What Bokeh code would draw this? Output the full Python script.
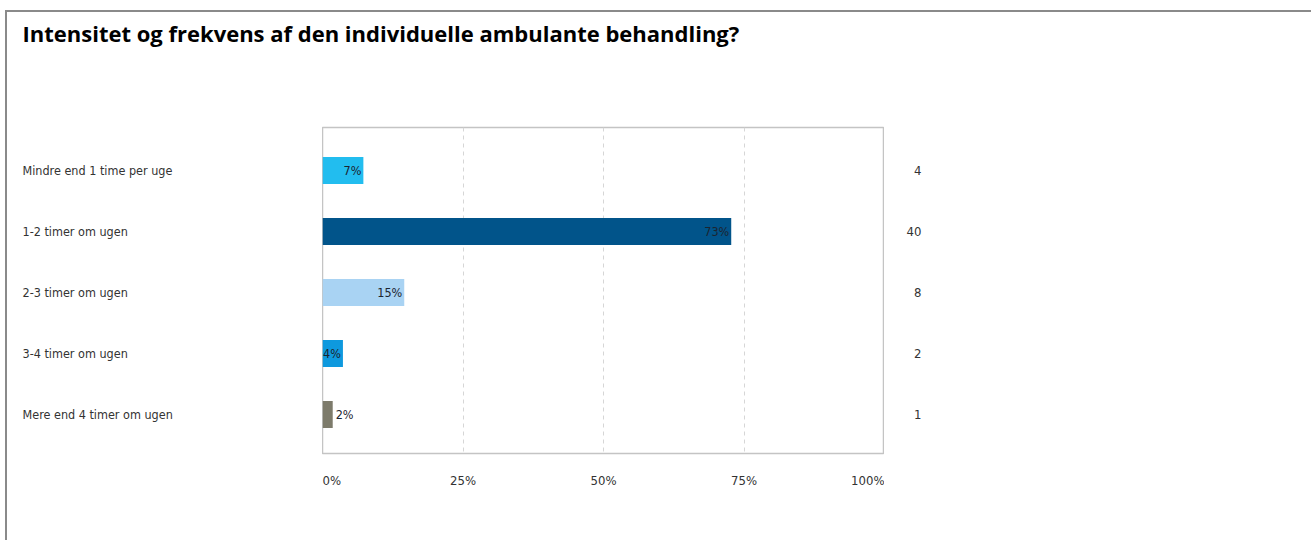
from bokeh.plotting import figure
from bokeh.models import Range1d, FixedTicker, ColumnDataSource
from bokeh.layouts import column, row
from bokeh.embed import file_html
from bokeh.resources import INLINE
from bokeh.core.properties import value

title_text = "Intensitet og frekvens af den individuelle ambulante behandling?"
categories = ["Mindre end 1 time per uge", "1-2 timer om ugen", "2-3 timer om ugen",
              "3-4 timer om ugen", "Mere end 4 timer om ugen"]
counts = [4, 40, 8, 2, 1]
colors = ["#22BDEF", "#01548A", "#A9D3F3", "#0E99DE", "#7D7B6B"]
tick_values = [0, 25, 50, 75, 100]
tick_labels = ["0%", "25%", "50%", "75%", "100%"]

total = sum(counts)
pct = [c / total * 100 for c in counts]
pct_labels = [f"{round(v)}%" for v in pct]
ys = list(range(len(categories)))

NARROW = "DejaVu Sans Condensed, Liberation Sans Narrow, sans-serif"
LBL_SIZE = "12.5px"
TICK_SIZE = "13px"

W = 1304
TITLE_H = 60
ROW_H = 468
LEFT_W, MAIN_W = 315, 562
RIGHT_W = W - LEFT_W - MAIN_W
TOP_B, BOT_B = 55, 87

y_range = Range1d(4.64, -0.705)


def bare(fig):
    fig.axis.visible = False
    fig.grid.visible = False
    fig.outline_line_color = None
    fig.background_fill_color = "white"
    fig.border_fill_color = "white"
    return fig


# title
tf = bare(figure(width=W, height=TITLE_H, output_backend="svg", toolbar_location=None,
                 x_range=Range1d(0, W), y_range=Range1d(0, TITLE_H), min_border=0))
tf.text(x=[15], y=[40], text=[title_text], text_align="left", text_baseline="alphabetic",
        text_font=value("Open Sans"), text_font_style="bold", text_font_size="22px",
        text_color="#000000")

src = ColumnDataSource(dict(y=ys, right=pct, color=colors, cat=categories,
                            cnt=[str(c) for c in counts], lab=pct_labels))

# left: category labels
lf = bare(figure(width=LEFT_W, height=ROW_H, output_backend="svg", toolbar_location=None,
                 x_range=Range1d(0, LEFT_W), y_range=y_range, min_border_left=0,
                 min_border_right=0, min_border_top=TOP_B, min_border_bottom=BOT_B))
lf.text(x=15, y="y", text="cat", source=src, text_align="left", text_baseline="middle",
        text_font=value(NARROW), text_font_size=LBL_SIZE, text_color="#333333")

# main bars
p = figure(width=MAIN_W, height=ROW_H, output_backend="svg", toolbar_location=None,
           x_range=Range1d(0, 100), y_range=y_range, min_border_left=0,
           min_border_right=0, min_border_top=TOP_B, min_border_bottom=BOT_B)
p.outline_line_color = "#C4C4C4"
p.outline_line_width = 1.5
p.background_fill_color = "white"
p.border_fill_color = "white"
p.hbar(y="y", left=0, right="right", height=0.44, fill_color="color",
       line_color=None, source=src)

inside = [i for i, v in enumerate(pct) if v >= 3]
outside = [i for i, v in enumerate(pct) if v < 3]
p.text(x=[pct[i] for i in inside], y=[ys[i] for i in inside],
       text=[pct_labels[i] for i in inside], text_align="right",
       text_baseline="middle", x_offset=-2, text_font=value(NARROW),
       text_font_size=LBL_SIZE, text_color="#1c2430")
p.text(x=[pct[i] for i in outside], y=[ys[i] for i in outside],
       text=[pct_labels[i] for i in outside], text_align="left",
       text_baseline="middle", x_offset=3, text_font=value(NARROW),
       text_font_size=LBL_SIZE, text_color="#1c2430")

p.yaxis.visible = False
p.ygrid.visible = False
xa = p.xaxis[0]
xa.ticker = FixedTicker(ticks=tick_values)
xa.major_label_overrides = {t: l for t, l in zip(tick_values, tick_labels)}
xa.axis_line_color = None
xa.major_tick_line_color = None
xa.minor_tick_line_color = None
xa.major_label_standoff = 13
xa.major_label_text_font = NARROW
xa.major_label_text_font_size = TICK_SIZE
xa.major_label_text_color = "#333333"
p.xgrid.ticker = FixedTicker(ticks=tick_values[1:-1])
p.xgrid.grid_line_color = "#D6D6D6"
p.xgrid.grid_line_dash = "4 4"

# right: counts
rf = bare(figure(width=RIGHT_W, height=ROW_H, output_backend="svg", toolbar_location=None,
                 x_range=Range1d(0, RIGHT_W), y_range=y_range, min_border_left=0,
                 min_border_right=0, min_border_top=TOP_B, min_border_bottom=BOT_B))
rf.text(x=37, y="y", text="cnt", source=src, text_align="right", text_baseline="middle",
        text_font=value(NARROW), text_font_size=TICK_SIZE, text_color="#333333")

layout = column(tf, row(lf, p, rf, spacing=0), spacing=0, margin=(10, 0, 0, 5),
                styles={"border-left": "2px solid #8A8A8A",
                        "border-top": "2px solid #8A8A8A"})

open("out.html", "w").write(file_html(layout, INLINE))
